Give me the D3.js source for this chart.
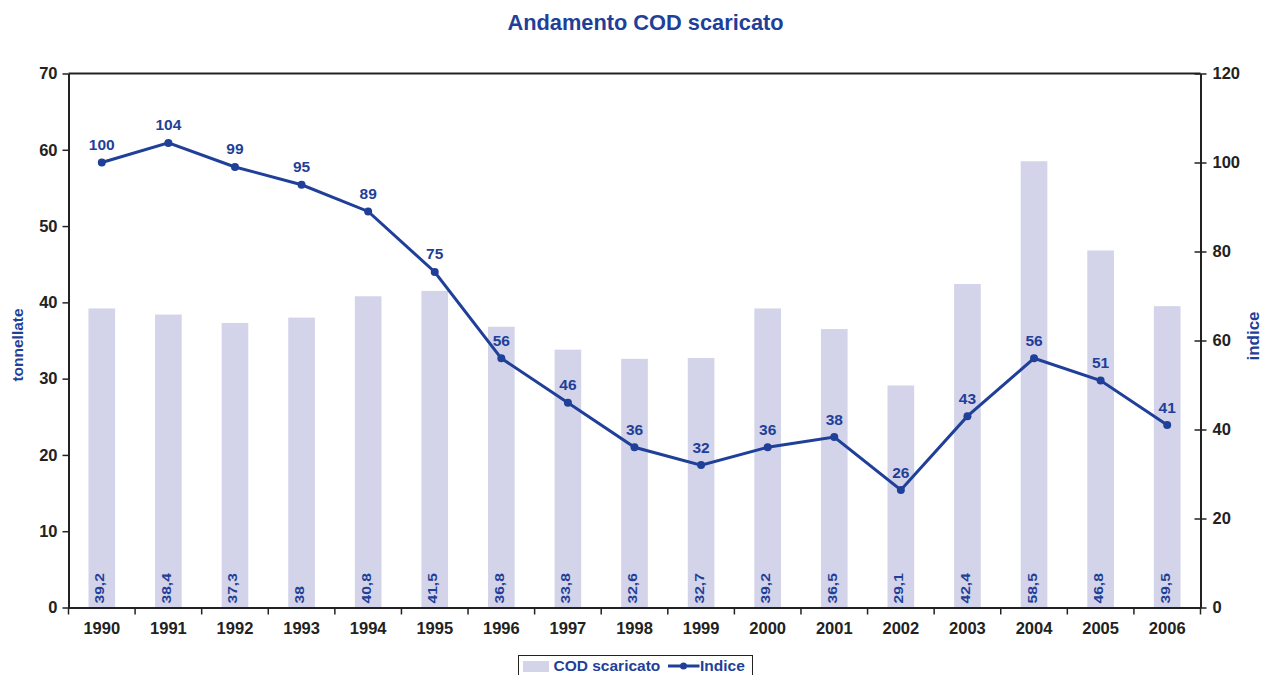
<!DOCTYPE html>
<html>
<head>
<meta charset="utf-8">
<script src="https://cdn.jsdelivr.net/npm/d3@7"></script>
<style>
  body { margin: 0; background: #fff; }
  text { font-family: "Liberation Sans", Arial, sans-serif; font-weight: bold; }
</style>
</head>
<body>
<svg id="chart" width="1262" height="675"></svg>
<script>
const years = ["1990","1991","1992","1993","1994","1995","1996","1997","1998","1999","2000","2001","2002","2003","2004","2005","2006"];
const cod = [39.2, 38.4, 37.3, 38, 40.8, 41.5, 36.8, 33.8, 32.6, 32.7, 39.2, 36.5, 29.1, 42.4, 58.5, 46.8, 39.5];
const indice = [100, 104.4, 99, 95, 89, 75.4, 56, 46, 36, 32, 36, 38.3, 26.4, 43, 56, 51, 41];
const indiceLabels = ["100","104","99","95","89","75","56","46","36","32","36","38","26","43","56","51","41"];
const leftTicks = [0, 10, 20, 30, 40, 50, 60, 70];
const rightTicks = [0, 20, 40, 60, 80, 100, 120];

const blue = "#1f3f98";
const barColor = "#d3d3ea";
const margin = { top: 73.5, right: 61.5, bottom: 67.5, left: 68.5 };
const width = 1262, height = 675;

const svg = d3.select("#chart");
const fmt = v => String(v).replace(".", ",");

const x = d3.scaleBand()
    .domain(years)
    .range([margin.left, width - margin.right])
    .paddingInner(0.6)
    .paddingOuter(0.3);

const xBand = d3.scaleBand()
    .domain(years)
    .range([margin.left, width - margin.right]);

const yL = d3.scaleLinear().domain([0, 70]).range([height - margin.bottom, margin.top]);
const yR = d3.scaleLinear().domain([0, 120]).range([height - margin.bottom, margin.top]);

// bars
svg.append("g")
    .selectAll("rect")
    .data(years)
    .join("rect")
    .attr("x", d => x(d))
    .attr("width", x.bandwidth())
    .attr("y", (d, i) => yL(cod[i]))
    .attr("height", (d, i) => yL(0) - yL(cod[i]))
    .attr("fill", barColor);

// bar labels (stretched along the text, like the original)
svg.append("g")
    .selectAll("text")
    .data(years)
    .join("text")
    .attr("transform", d => `translate(${x(d) + x.bandwidth() / 2 + 2.5},${yL(0) - 4}) rotate(-90) scale(1.25,1)`)
    .attr("fill", blue)
    .attr("font-size", 12.5)
    .text((d, i) => fmt(cod[i]));

// plot frame top
svg.append("line")
    .attr("x1", margin.left).attr("x2", width - margin.right)
    .attr("y1", margin.top).attr("y2", margin.top)
    .attr("stroke", "#222").attr("stroke-width", 2);

// axes
const axisStyle = g => {
    g.select(".domain").attr("stroke", "#222").attr("stroke-width", 2);
    g.selectAll(".tick line").attr("stroke", "#222").attr("stroke-width", 1.5);
    g.selectAll(".tick text").attr("fill", "#222").attr("font-size", 16.5)
        .attr("font-family", "Liberation Sans, Arial, sans-serif").attr("font-weight", "bold");
};

svg.append("g")
    .attr("transform", `translate(${margin.left},0)`)
    .call(d3.axisLeft(yL).tickValues(leftTicks).tickSize(6).tickSizeOuter(0).tickPadding(5))
    .call(axisStyle);

const gR = svg.append("g")
    .attr("transform", `translate(${width - margin.right},0)`)
    .call(d3.axisRight(yR).tickValues(rightTicks).tickSize(6).tickSizeOuter(0).tickPadding(6))
    .call(axisStyle);
gR.selectAll(".tick line").attr("x1", -6);

const gX = svg.append("g")
    .attr("transform", `translate(0,${height - margin.bottom})`)
    .call(d3.axisBottom(xBand).tickSize(0).tickSizeOuter(0).tickPadding(14.5))
    .call(axisStyle);
// tick marks between categories
gX.selectAll(".sep")
    .data(d3.range(years.length + 1))
    .join("line")
    .attr("class", "sep")
    .attr("x1", i => margin.left + i * xBand.step())
    .attr("x2", i => margin.left + i * xBand.step())
    .attr("y1", 0).attr("y2", 7)
    .attr("stroke", "#222").attr("stroke-width", 1.5);

// line
const line = d3.line()
    .x((d, i) => xBand(years[i]) + xBand.bandwidth() / 2)
    .y(d => yR(d));

svg.append("path")
    .datum(indice)
    .attr("d", line)
    .attr("fill", "none")
    .attr("stroke", blue)
    .attr("stroke-width", 3);

svg.append("g")
    .selectAll("circle")
    .data(indice)
    .join("circle")
    .attr("cx", (d, i) => xBand(years[i]) + xBand.bandwidth() / 2)
    .attr("cy", d => yR(d))
    .attr("r", 4)
    .attr("fill", blue);

svg.append("g")
    .selectAll("text")
    .data(indice)
    .join("text")
    .attr("x", (d, i) => xBand(years[i]) + xBand.bandwidth() / 2)
    .attr("y", d => yR(d) - 12.5)
    .attr("text-anchor", "middle")
    .attr("fill", blue)
    .attr("font-size", 15.5)
    .text((d, i) => indiceLabels[i]);

// title
svg.append("text")
    .attr("x", 645.5).attr("y", 29.5)
    .attr("text-anchor", "middle")
    .attr("fill", blue)
    .attr("font-size", 21.8)
    .text("Andamento COD scaricato");

// axis titles
svg.append("text")
    .attr("transform", `translate(23,345) rotate(-90)`)
    .attr("text-anchor", "middle")
    .attr("fill", blue)
    .attr("font-size", 15.5)
    .text("tonnellate");

svg.append("text")
    .attr("transform", `translate(1259,336) rotate(-90)`)
    .attr("text-anchor", "middle")
    .attr("fill", blue)
    .attr("font-size", 17)
    .text("indice");

// legend
const lg = svg.append("g").attr("transform", "translate(518.5,655.5)");
lg.append("rect")
    .attr("width", 234).attr("height", 30)
    .attr("fill", "#fff").attr("stroke", "#222").attr("stroke-width", 1);
lg.append("rect")
    .attr("x", 4.5).attr("y", 5.5).attr("width", 26).attr("height", 11)
    .attr("fill", barColor);
lg.append("text")
    .attr("x", 35).attr("y", 15.5)
    .attr("fill", blue).attr("font-size", 15.5)
    .text("COD scaricato");
lg.append("line")
    .attr("x1", 149.5).attr("x2", 181).attr("y1", 10.5).attr("y2", 10.5)
    .attr("stroke", blue).attr("stroke-width", 3);
lg.append("circle")
    .attr("cx", 165).attr("cy", 10.5).attr("r", 3.5).attr("fill", blue);
lg.append("text")
    .attr("x", 181.5).attr("y", 15.5)
    .attr("fill", blue).attr("font-size", 15.5)
    .text("Indice");
</script>
</body>
</html>
